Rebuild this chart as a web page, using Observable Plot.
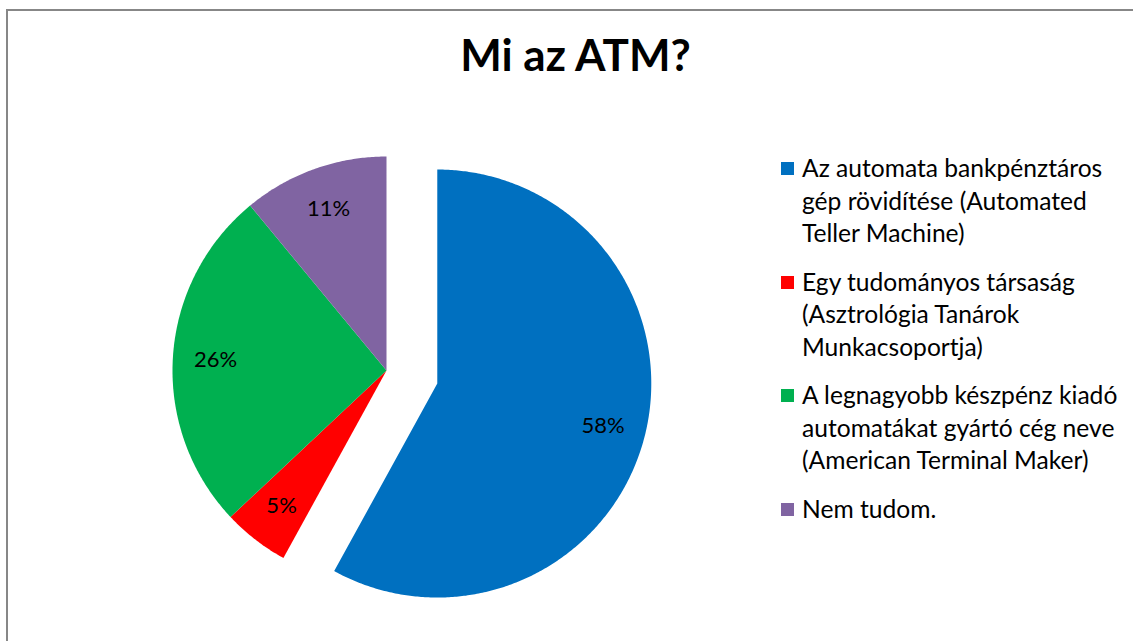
<!DOCTYPE html>
<html>
<head>
<meta charset="utf-8">
<script src="https://cdn.jsdelivr.net/npm/d3@7"></script>
<script src="https://cdn.jsdelivr.net/npm/@observablehq/plot@0.6"></script>
<style>
  html, body { margin: 0; padding: 0; background: #fff; overflow: hidden; width: 1133px; height: 641px; }
  #wrap { position: relative; width: 1133px; height: 641px; overflow: hidden; font-family: Lato, "Open Sans", sans-serif; }
  #vline { position: absolute; left: 6px; top: 9px; width: 2px; height: 632px; background: #878787; }
  #hline { position: absolute; left: 6px; top: 9px; width: 1127px; height: 2px; background: #878787; }
  #chart { position: absolute; left: 0; top: 0; }
  #title { position: absolute; left: 0; width: 1133px; padding-left: 18px; box-sizing: border-box; top: 32px; text-align: center; font-weight: bold; font-size: 44px; color: #000; line-height: 1; }
  #legend { position: absolute; left: 781px; top: 152px; font-size: 24.6px; color: #000; }
  .item { display: flex; align-items: flex-start; margin-bottom: 16px; }
  .sw { width: 13px; height: 13px; margin-top: 10px; margin-right: 8px; flex: none; }
  .lbl { line-height: 32.5px; white-space: nowrap; }
</style>
</head>
<body>
<div id="wrap">
  <div id="vline"></div>
  <div id="hline"></div>
  <div id="chart"></div>
  <div id="title">Mi az ATM?</div>
  <div id="legend"></div>
</div>
<script>
const categories = [
  "Az automata bankpénztáros gép rövidítése (Automated Teller Machine)",
  "Egy tudományos társaság (Asztrológia Tanárok Munkacsoportja)",
  "A legnagyobb készpénz kiadó automatákat gyártó cég neve (American Terminal Maker)",
  "Nem tudom."
];
const legendLines = [
  ["Az automata bankpénztáros", "gép rövidítése (Automated", "Teller Machine)"],
  ["Egy tudományos társaság", "(Asztrológia Tanárok", "Munkacsoportja)"],
  ["A legnagyobb készpénz kiadó", "automatákat gyártó cég neve", "(American Terminal Maker)"],
  ["Nem tudom."]
];
const values = [58, 5, 26, 11];
const colors = ["#0070C0", "#FF0000", "#00B050", "#8064A2"];
const explode = [0.245, 0, 0, 0];

// layout (pixels)
const W = 1133, H = 641, cx = 386, cy = 370, R = 214;

const total = d3.sum(values);
const slices = [];
const labels = [];
let acc = 0;
values.forEach((v, i) => {
  const a0 = acc / total * 2 * Math.PI;
  acc += v;
  const a1 = acc / total * 2 * Math.PI;
  const am = (a0 + a1) / 2;
  const ox = explode[i] * Math.sin(am), oy = explode[i] * Math.cos(am);
  slices.push({cat: categories[i], x: ox, y: oy});
  const n = Math.max(2, Math.ceil((a1 - a0) / (Math.PI / 360)));
  for (let k = 0; k <= n; k++) {
    const a = a0 + (a1 - a0) * k / n;
    slices.push({cat: categories[i], x: ox + Math.sin(a), y: oy + Math.cos(a)});
  }
  slices.push({cat: categories[i], x: ox, y: oy});
  labels.push({x: ox + 0.8 * Math.sin(am), y: oy + 0.8 * Math.cos(am), text: Math.round(v / total * 100) + "%"});
});

const plot = Plot.plot({
  width: W,
  height: H,
  margin: 0,
  x: {domain: [-cx / R, (W - cx) / R], axis: null},
  y: {domain: [-(H - cy) / R, cy / R], axis: null},
  color: {domain: categories, range: colors},
  style: {background: "transparent"},
  marks: [
    Plot.line(slices, {x: "x", y: "y", z: "cat", fill: "cat", stroke: "none", curve: "linear"}),
    Plot.text(labels, {x: "x", y: "y", text: "text", fontSize: 22, fill: "#000", fontFamily: "Lato, sans-serif"})
  ]
});
document.getElementById("chart").appendChild(plot);

const leg = document.getElementById("legend");
categories.forEach((c, i) => {
  const it = document.createElement("div");
  it.className = "item";
  const sw = document.createElement("div");
  sw.className = "sw";
  sw.style.background = colors[i];
  const lb = document.createElement("div");
  lb.className = "lbl";
  lb.innerHTML = legendLines[i].join("<br>");
  it.appendChild(sw);
  it.appendChild(lb);
  leg.appendChild(it);
});
</script>
</body>
</html>
